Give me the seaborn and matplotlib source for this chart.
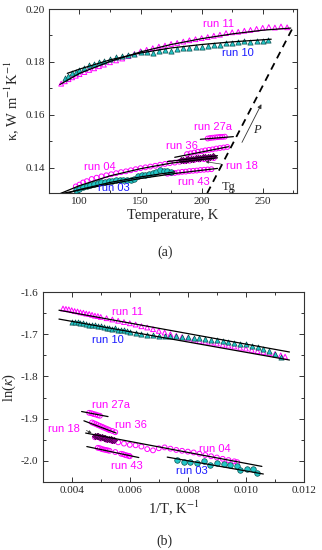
import numpy as np
import pandas as pd
import matplotlib
matplotlib.use("Agg")
import matplotlib.pyplot as plt
from matplotlib.ticker import MultipleLocator
import seaborn as sns

# ---------------- panel (a): kappa vs temperature ----------------
t_run11 = [85, 88, 91, 94, 97, 100, 104, 108, 112, 116, 120, 125, 130, 135, 140, 145, 150,
           155, 160, 165, 170, 175, 180, 185, 190, 195, 200, 205, 210, 215, 220, 225, 230,
           235, 240, 245, 250, 255, 260, 265, 270]
k_run11 = [0.1718, 0.1727, 0.1735, 0.1742, 0.1748, 0.1754, 0.1762, 0.1770, 0.1776, 0.1784,
           0.1790, 0.1799, 0.1806, 0.1813, 0.1822, 0.1830, 0.1840, 0.1846, 0.1852, 0.1858,
           0.1862, 0.1868, 0.1872, 0.1877, 0.1882, 0.1886, 0.1890, 0.1894, 0.1899, 0.1903,
           0.1909, 0.1912, 0.1914, 0.1918, 0.1921, 0.1925, 0.1929, 0.1932, 0.1930, 0.1934, 0.1931]
t_run10 = [88, 91, 94, 97, 100, 104, 108, 112, 116, 120, 125, 130, 135, 140, 145, 150, 155,
           160, 165, 170, 175, 180, 185, 190, 195, 200, 205, 210, 215, 220, 225, 230, 235,
           240, 245, 250, 254]
k_run10 = [0.1738, 0.1748, 0.1757, 0.1764, 0.1771, 0.1779, 0.1787, 0.1793, 0.1799, 0.1805,
           0.1812, 0.1817, 0.1822, 0.1826, 0.1830, 0.1836, 0.1838, 0.1834, 0.1840, 0.1846,
           0.1842, 0.1850, 0.1852, 0.1853, 0.1856, 0.1858, 0.1861, 0.1866, 0.1866, 0.1870,
           0.1872, 0.1876, 0.1878, 0.1877, 0.1881, 0.1878, 0.1882]
t_run04 = [97, 100, 103, 106, 110, 114, 118, 122, 126, 130, 134, 138, 142, 146, 150, 154,
           158, 162, 166, 170, 174, 178, 182, 186, 190, 194, 198, 202, 206, 210]
k_run04 = [0.1330, 0.1337, 0.1345, 0.1350, 0.1358, 0.1363, 0.1368, 0.1372, 0.1376, 0.1380,
           0.1384, 0.1387, 0.1391, 0.1395, 0.1399, 0.1402, 0.1405, 0.1408, 0.1412, 0.1415,
           0.1418, 0.1420, 0.1423, 0.1425, 0.1427, 0.1430, 0.1432, 0.1433, 0.1435, 0.1437]
t_run03 = [97, 100, 103, 106, 109, 112, 115, 118, 121, 124, 127, 130, 133, 136, 139, 142,
           145, 148, 151, 154, 157, 160, 163, 166, 169, 172, 175]
k_run03 = [0.1318, 0.1322, 0.1328, 0.1333, 0.1336, 0.1340, 0.1342, 0.1345, 0.1347, 0.1350,
           0.1352, 0.1354, 0.1356, 0.1355, 0.1354, 0.1356, 0.1358, 0.1368, 0.1374, 0.1375,
           0.1377, 0.1379, 0.1385, 0.1391, 0.1389, 0.1388, 0.1386]
t_run43 = [172, 175, 178, 181, 184, 187, 190, 193, 196, 199, 202, 205, 208]
k_run43 = [0.1378, 0.1380, 0.1381, 0.1383, 0.1385, 0.1386, 0.1388, 0.1389, 0.1390, 0.1392,
           0.1393, 0.1394, 0.1395]
t_run36 = [188, 191, 194, 197, 200, 203, 206, 209, 212, 215, 218, 221]
k_run36 = [0.1452, 0.1455, 0.1458, 0.1461, 0.1463, 0.1466, 0.1468, 0.1470, 0.1473, 0.1475,
           0.1477, 0.1479]
t_run27a = [205, 207, 209, 211, 213, 215, 217, 219]
k_run27a = [0.1511, 0.1513, 0.1514, 0.1515, 0.1516, 0.1517, 0.1517, 0.1518]
t_run18 = [183, 185, 187, 189, 191, 193, 195, 197, 199, 201, 203, 205, 207, 209]
k_run18 = [0.1428, 0.1430, 0.1431, 0.1433, 0.1434, 0.1435, 0.1437, 0.1438, 0.1439, 0.1440,
           0.1441, 0.1442, 0.1443, 0.1444]

# fit curves (a)
fit_a = {
    "11": ([84, 100, 125, 150, 175, 200, 225, 250, 273],
           [0.1715, 0.1757, 0.1802, 0.1838, 0.1866, 0.1888, 0.1906, 0.1920, 0.1928]),
    "10": ([90, 100, 125, 150, 175, 200, 225, 257],
           [0.1757, 0.1773, 0.1808, 0.1834, 0.1853, 0.1866, 0.1876, 0.1886]),
    "04": ([80, 100, 125, 150, 175, 200, 213],
           [0.1295, 0.1333, 0.1370, 0.1397, 0.1418, 0.1432, 0.1438]),
    "03": ([80, 100, 125, 150, 178], [0.1290, 0.1318, 0.1345, 0.1366, 0.1385]),
    "43": ([82, 120, 150, 180, 213], [0.1300, 0.1335, 0.1360, 0.1380, 0.1398]),
    "36": ([178, 222], [0.1440, 0.1480]),
    "27a": ([199, 226], [0.1508, 0.1518]),
    "18": ([172, 213], [0.1424, 0.1446]),
}
tg_line_t = [204.6, 274.5]
tg_line_k = [0.1305, 0.1928]

# ---------------- panel (b): ln(kappa) vs 1/T ----------------
x_run11 = [0.0037, 0.0038, 0.0039, 0.0040, 0.0041, 0.0042, 0.0043, 0.0044, 0.0045, 0.0046,
           0.0047, 0.0048, 0.0049, 0.0050, 0.0052, 0.0054, 0.0056, 0.0058, 0.0060, 0.0062,
           0.0064, 0.0066, 0.0068, 0.0070, 0.0072, 0.0074, 0.0076, 0.0078, 0.0080, 0.0082,
           0.0084, 0.0086, 0.0088, 0.0090, 0.0092, 0.0094, 0.0096, 0.0098, 0.0100, 0.0102,
           0.0104, 0.0106, 0.0108, 0.0110, 0.0112, 0.01135]
y_run11 = [-1.639, -1.640, -1.641, -1.643, -1.645, -1.646, -1.648, -1.649, -1.651, -1.652,
           -1.654, -1.656, -1.657, -1.659, -1.662, -1.665, -1.668, -1.671, -1.674, -1.677,
           -1.681, -1.684, -1.688, -1.692, -1.696, -1.700, -1.704, -1.707, -1.710, -1.713,
           -1.716, -1.718, -1.720, -1.722, -1.725, -1.727, -1.729, -1.732, -1.734, -1.737,
           -1.740, -1.742, -1.745, -1.747, -1.750, -1.753]
x_run10 = [0.0040, 0.0041, 0.0042, 0.0043, 0.0044, 0.0045, 0.0046, 0.0047, 0.0048, 0.0049,
           0.0050, 0.0051, 0.0052, 0.0053, 0.0054, 0.0055, 0.0056, 0.0057, 0.0058, 0.0059,
           0.0060, 0.0062, 0.0064, 0.0066, 0.0068, 0.0070, 0.0072, 0.0074, 0.0076, 0.0078,
           0.0080, 0.0082, 0.0084, 0.0086, 0.0088, 0.0090, 0.0092, 0.0094, 0.0096, 0.0098,
           0.0100, 0.0102, 0.0104, 0.0106, 0.0108, 0.0110, 0.0112]
y_run10 = [-1.670, -1.671, -1.672, -1.674, -1.673, -1.676, -1.677, -1.678, -1.678, -1.681,
           -1.681, -1.682, -1.684, -1.684, -1.687, -1.686, -1.689, -1.690, -1.690, -1.693,
           -1.694, -1.697, -1.699, -1.701, -1.702, -1.703, -1.703, -1.704, -1.705, -1.706,
           -1.707, -1.708, -1.710, -1.711, -1.713, -1.714, -1.716, -1.718, -1.720, -1.722,
           -1.724, -1.727, -1.731, -1.735, -1.740, -1.747, -1.755]
x_run27a = [0.0046, 0.00468, 0.00475, 0.00482, 0.0049, 0.00497]
y_run27a = [-1.886, -1.887, -1.889, -1.890, -1.892, -1.893]
x_run36 = [0.0047, 0.00477, 0.00484, 0.0049, 0.00497, 0.00504, 0.0051, 0.00517, 0.00524,
           0.0053, 0.0054, 0.0055]
y_run36 = [-1.909, -1.911, -1.913, -1.915, -1.917, -1.919, -1.921, -1.923, -1.925, -1.927,
           -1.929, -1.932]
x_run18 = [0.0048, 0.00486, 0.00492, 0.00498, 0.00504, 0.0051, 0.00516, 0.00522, 0.00528,
           0.00534, 0.0054, 0.00546]
y_run18 = [-1.940, -1.941, -1.942, -1.943, -1.944, -1.945, -1.946, -1.947, -1.948, -1.949,
           -1.950, -1.951]
x_run04 = [0.0048, 0.0050, 0.0052, 0.0054, 0.0056, 0.0058, 0.0060, 0.0062, 0.0064, 0.0066,
           0.0068, 0.0070, 0.0072, 0.0074, 0.0076, 0.0078, 0.0080, 0.0082, 0.0084, 0.0086,
           0.0088, 0.0090, 0.0092, 0.0094, 0.0096, 0.0097]
y_run04 = [-1.944, -1.947, -1.950, -1.953, -1.956, -1.959, -1.962, -1.963, -1.966, -1.972,
           -1.975, -1.970, -1.968, -1.971, -1.974, -1.976, -1.978, -1.980, -1.983, -1.986,
           -1.989, -1.992, -1.995, -1.998, -2.001, -2.003]
x_run03 = [0.00763, 0.00786, 0.00809, 0.00832, 0.00854, 0.00877, 0.0090, 0.00923, 0.00946,
           0.00969, 0.0098, 0.01003, 0.01026, 0.01038]
y_run03 = [-1.998, -2.002, -2.002, -2.004, -2.000, -2.009, -2.005, -2.008, -2.010, -2.011,
           -2.021, -2.018, -2.018, -2.029]
x_run43 = [0.0049, 0.00497, 0.00504, 0.0051, 0.00517, 0.00524, 0.0053, 0.0055, 0.0057,
           0.00577, 0.00584, 0.0059, 0.00597, 0.0060]
y_run43 = [-1.969, -1.970, -1.972, -1.973, -1.974, -1.975, -1.976, -1.979, -1.983, -1.984,
           -1.986, -1.987, -1.988, -1.989]

fit_b = {
    "A": ([0.00356, 0.0115], [-1.643, -1.742]),
    "B": ([0.00356, 0.0115], [-1.664, -1.761]),
    "27a": ([0.00434, 0.00525], [-1.883, -1.895]),
    "36": ([0.00442, 0.00553], [-1.905, -1.934]),
    "04": ([0.00448, 0.01055], [-1.934, -2.013]),
    "03": ([0.00729, 0.0106], [-1.991, -2.031]),
    "43": ([0.00452, 0.00631], [-1.966, -1.992]),
}

MAG = "#ff00ff"
BLUE = "#1a1aff"
CYAN = "#22c6c6"
DARKC = "#0b5050"
PURP = "#8a008a"

sns.set_style("ticks")
plt.rcParams["font.family"] = ["Liberation Serif", "DejaVu Serif"]
plt.rcParams["mathtext.fontset"] = "stix"
plt.rcParams["axes.linewidth"] = 0.8

fig = plt.figure(figsize=(3.22, 5.5), dpi=100)
ax1 = fig.add_axes([0.152, 0.649, 0.770, 0.3346])
ax2 = fig.add_axes([0.1326, 0.1236, 0.8114, 0.3454])


def open_pts(ax, x, y, marker, color, s=12):
    sns.scatterplot(x=x, y=y, ax=ax, marker=marker, s=s, facecolors="none",
                    edgecolor=color, linewidth=0.7, zorder=2)


def filled_pts(ax, x, y, marker, face, edge, s=14):
    sns.scatterplot(x=x, y=y, ax=ax, marker=marker, s=s, color=face,
                    edgecolor=edge, linewidth=0.5, zorder=3)


def fit(ax, xs, ys):
    sns.lineplot(x=xs, y=ys, ax=ax, color="black", linewidth=0.9, sort=False,
                 estimator=None, zorder=4)


def lab(ax, x, y, s, c):
    ax.text(x, y, s, color=c, fontsize=8, family=["Liberation Sans"], ha="center",
            va="center", zorder=6)


# ---- panel (a)
open_pts(ax1, t_run11, k_run11, "^", MAG)
filled_pts(ax1, t_run10, k_run10, "^", CYAN, DARKC)
open_pts(ax1, t_run04, k_run04, "o", MAG)
filled_pts(ax1, t_run03, k_run03, "o", CYAN, DARKC, s=16)
open_pts(ax1, t_run43, k_run43, "o", MAG)
open_pts(ax1, t_run36, k_run36, "o", MAG)
open_pts(ax1, t_run27a, k_run27a, "o", MAG)
filled_pts(ax1, t_run18, k_run18, "D", PURP, "#4a004a", s=10)
for xs, ys in fit_a.values():
    fit(ax1, xs, ys)
ax1.plot(tg_line_t, tg_line_k, color="black", linestyle=(0, (4, 3)), linewidth=1.3, zorder=5)
ax1.annotate("", xy=(250, 0.1650), xytext=(232, 0.1487),
             arrowprops=dict(arrowstyle="-|>", color="#333333", lw=0.6, mutation_scale=6))
ax1.text(245.6, 0.1545, "P", fontsize=9, style="italic", ha="center", va="center")
ax1.text(222, 0.1328, "Tg", fontsize=9, ha="center", va="center")
ax1.annotate("", xy=(201, 0.1425), xytext=(218, 0.1413),
             arrowprops=dict(arrowstyle="-|>", color="#333333", lw=0.5, mutation_scale=4))

lab(ax1, 214, 0.1943, "run 11", MAG)
lab(ax1, 230, 0.1834, "run 10", BLUE)
lab(ax1, 209, 0.1555, "run 27a", MAG)
lab(ax1, 184, 0.1483, "run 36", MAG)
lab(ax1, 233, 0.1409, "run 18", MAG)
lab(ax1, 193.5, 0.1348, "run 43", MAG)
lab(ax1, 117, 0.1405, "run 04", MAG)
lab(ax1, 128, 0.1325, "run 03", BLUE)

ax1.set_xlim(75, 278)
ax1.set_ylim(0.1305, 0.20)
ax1.xaxis.set_major_locator(MultipleLocator(50))
ax1.xaxis.set_minor_locator(MultipleLocator(25))
ax1.yaxis.set_major_locator(MultipleLocator(0.02))
ax1.yaxis.set_minor_locator(MultipleLocator(0.01))
ax1.set_yticks([0.14, 0.16, 0.18, 0.20])
ax1.set_yticklabels(["0.14", "0.16", "0.18", "0.20"])
ax1.set_xlabel("Temperature, K", fontsize=10.5, labelpad=2)
ax1.set_ylabel(r"κ, W m$^{-1}$K$^{-1}$", fontsize=10.5, labelpad=3)

# ---- panel (b)
open_pts(ax2, x_run11, y_run11, "^", MAG)
filled_pts(ax2, x_run10, y_run10, "^", CYAN, DARKC)
open_pts(ax2, x_run27a, y_run27a, "o", MAG)
open_pts(ax2, x_run36, y_run36, "o", MAG)
open_pts(ax2, x_run04, y_run04, "o", MAG)
open_pts(ax2, x_run43, y_run43, "o", MAG)
filled_pts(ax2, x_run18, y_run18, "D", PURP, "#4a004a", s=10)
filled_pts(ax2, x_run03, y_run03, "o", CYAN, DARKC, s=16)
for xs, ys in fit_b.values():
    fit(ax2, xs, ys)
ax2.annotate("", xy=(0.00477, -1.937), xytext=(0.00442, -1.925),
             arrowprops=dict(arrowstyle="-|>", color="#333333", lw=0.5, mutation_scale=4))

lab(ax2, 0.00591, -1.648, "run 11", MAG)
lab(ax2, 0.00523, -1.714, "run 10", BLUE)
lab(ax2, 0.00534, -1.867, "run 27a", MAG)
lab(ax2, 0.00603, -1.916, "run 36", MAG)
lab(ax2, 0.00374, -1.925, "run 18", MAG)
lab(ax2, 0.00589, -2.012, "run 43", MAG)
lab(ax2, 0.00892, -1.972, "run 04", MAG)
lab(ax2, 0.00814, -2.024, "run 03", BLUE)

ax2.set_xlim(0.003, 0.012)
ax2.set_ylim(-2.05, -1.6)
ax2.set_xticks([0.004, 0.006, 0.008, 0.010, 0.012])
ax2.set_xticklabels(["0.004", "0.006", "0.008", "0.010", "0.012"])
ax2.xaxis.set_minor_locator(MultipleLocator(0.001))
ax2.set_yticks([-2.0, -1.9, -1.8, -1.7, -1.6])
ax2.set_yticklabels(["-2.0", "-1.9", "-1.8", "-1.7", "-1.6"])
ax2.yaxis.set_minor_locator(MultipleLocator(0.05))
ax2.set_xlabel(r"1/T, K$^{-1}$", fontsize=10.5, labelpad=2)
ax2.set_ylabel(r"ln($\kappa$)", fontsize=10.5, labelpad=2)

for ax in (ax1, ax2):
    ax.tick_params(which="both", direction="in", top=True, right=True, labelsize=8,
                   width=0.7, color="#333333")
    ax.tick_params(which="major", length=3.5, pad=3)
    ax.tick_params(which="minor", length=2)
    for sp in ax.spines.values():
        sp.set_color("#333333")

fig.text(0.512, 1 - 252 / 550, "(a)", fontsize=10, ha="center", va="center")
fig.text(0.512, 1 - 541 / 550, "(b)", fontsize=10, ha="center", va="center")

fig.savefig("out.png", dpi=100)
